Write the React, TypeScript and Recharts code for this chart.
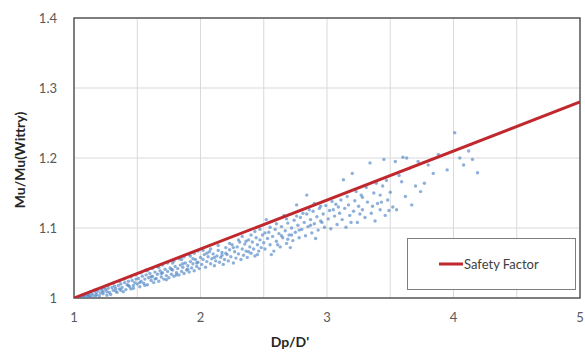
import { ScatterChart, Scatter, XAxis, YAxis, CartesianGrid, ReferenceArea, Legend, Label } from "recharts";

const FONT = "Lato, 'Open Sans', sans-serif";
const RED = "#c0282d";
const DOT = "#4f86c6";

// axis ticks (grid every 0.5 on x, labels only on integers)
const xTicks = [1, 1.5, 2, 2.5, 3, 3.5, 4, 4.5, 5];
const yTicks = [1, 1.1, 1.2, 1.3, 1.4];

// safety factor line end points
const safetyFactor = [
  { x: 1, y: 1 },
  { x: 5, y: 1.28 },
];

const band1: [number, number][] = [
  [1.02, 1.0], [1.04, 1.001], [1.05, 1.002], [1.07, 1.002], [1.08, 1.004], [1.1, 1.003], [1.11, 1.005], [1.12, 1.002],
  [1.14, 1.006], [1.15, 1.004], [1.17, 1.008], [1.18, 1.005], [1.19, 1.01], [1.21, 1.007], [1.22, 1.011], [1.23, 1.006],
  [1.25, 1.012], [1.26, 1.009], [1.27, 1.014], [1.28, 1.008], [1.3, 1.015], [1.31, 1.011], [1.32, 1.017], [1.33, 1.01],
  [1.35, 1.018], [1.36, 1.013], [1.37, 1.02], [1.38, 1.015], [1.4, 1.022], [1.41, 1.012], [1.42, 1.019], [1.43, 1.024],
  [1.44, 1.016], [1.46, 1.025], [1.47, 1.018], [1.48, 1.022], [1.49, 1.027], [1.5, 1.02], [1.13, 1.001], [1.2, 1.003],
  [1.29, 1.005], [1.34, 1.008], [1.39, 1.009], [1.45, 1.013], [1.24, 1.015], [1.16, 1.011],
  [1.06, 1.004], [1.09, 1.006], [1.13, 1.009], [1.18, 1.012], [1.22, 1.014], [1.27, 1.018], [1.31, 1.021], [1.36, 1.024],
  [1.4, 1.027], [1.45, 1.03], [1.49, 1.033], [1.08, 1.001], [1.12, 1.004], [1.17, 1.003], [1.23, 1.009], [1.26, 1.004],
  [1.33, 1.014], [1.37, 1.011], [1.43, 1.018], [1.47, 1.014],
];

const band2: [number, number][] = [
  [1.51, 1.028], [1.52, 1.016], [1.53, 1.024], [1.54, 1.031], [1.55, 1.021], [1.56, 1.027], [1.57, 1.033], [1.58, 1.019],
  [1.59, 1.029], [1.6, 1.035], [1.61, 1.025], [1.62, 1.031], [1.63, 1.022], [1.64, 1.037], [1.65, 1.028], [1.66, 1.034],
  [1.67, 1.024], [1.68, 1.039], [1.69, 1.03], [1.7, 1.036], [1.71, 1.027], [1.72, 1.041], [1.73, 1.032], [1.74, 1.038],
  [1.75, 1.029], [1.76, 1.043], [1.77, 1.034], [1.78, 1.04], [1.79, 1.031], [1.8, 1.045], [1.81, 1.036], [1.82, 1.042],
  [1.83, 1.033], [1.84, 1.047], [1.85, 1.038], [1.86, 1.044], [1.87, 1.035], [1.88, 1.05], [1.89, 1.04], [1.9, 1.046],
  [1.91, 1.037], [1.92, 1.052], [1.93, 1.043], [1.94, 1.049], [1.95, 1.039], [1.96, 1.055], [1.97, 1.045], [1.98, 1.051],
  [1.99, 1.042], [2.0, 1.058], [1.66, 1.045], [1.78, 1.05], [1.85, 1.055], [1.92, 1.06], [1.57, 1.04],
  [1.53, 1.036], [1.58, 1.039], [1.62, 1.042], [1.67, 1.044], [1.7, 1.047], [1.74, 1.05], [1.79, 1.053], [1.83, 1.056],
  [1.87, 1.059], [1.91, 1.062], [1.95, 1.064], [1.98, 1.067], [1.52, 1.022], [1.56, 1.018], [1.61, 1.03], [1.64, 1.027],
  [1.69, 1.035], [1.73, 1.026], [1.77, 1.041], [1.81, 1.033], [1.86, 1.049], [1.9, 1.041], [1.94, 1.056], [1.97, 1.05],
];

const band3: [number, number][] = [
  [2.01, 1.048], [2.02, 1.055], [2.03, 1.062], [2.04, 1.044], [2.05, 1.052], [2.06, 1.059], [2.07, 1.066], [2.08, 1.049],
  [2.09, 1.056], [2.1, 1.063], [2.11, 1.046], [2.12, 1.053], [2.13, 1.06], [2.14, 1.068], [2.15, 1.051], [2.16, 1.058],
  [2.17, 1.065], [2.18, 1.048], [2.19, 1.055], [2.2, 1.072], [2.21, 1.062], [2.22, 1.053], [2.23, 1.069], [2.24, 1.059],
  [2.25, 1.076], [2.26, 1.05], [2.27, 1.066], [2.28, 1.057], [2.29, 1.073], [2.3, 1.063], [2.31, 1.08], [2.32, 1.055],
  [2.33, 1.07], [2.34, 1.061], [2.35, 1.077], [2.36, 1.067], [2.37, 1.058], [2.38, 1.083], [2.39, 1.073], [2.4, 1.064],
  [2.41, 1.08], [2.42, 1.07], [2.43, 1.06], [2.44, 1.086], [2.45, 1.076], [2.46, 1.067], [2.47, 1.083], [2.48, 1.072],
  [2.49, 1.09], [2.5, 1.079], [2.52, 1.112],
  [2.02, 1.068], [2.05, 1.064], [2.08, 1.07], [2.11, 1.058], [2.14, 1.075], [2.17, 1.061], [2.2, 1.064], [2.23, 1.078],
  [2.26, 1.072], [2.3, 1.083], [2.33, 1.088], [2.36, 1.081], [2.4, 1.09], [2.43, 1.095], [2.47, 1.098], [2.45, 1.062],
  [2.38, 1.066],
];

const band4: [number, number][] = [
  [2.51, 1.07], [2.53, 1.085], [2.54, 1.094], [2.55, 1.076], [2.57, 1.088], [2.58, 1.067], [2.59, 1.098], [2.6, 1.081],
  [2.62, 1.092], [2.63, 1.073], [2.64, 1.102], [2.65, 1.086], [2.67, 1.096], [2.68, 1.078], [2.69, 1.107], [2.7, 1.09],
  [2.72, 1.1], [2.73, 1.082], [2.74, 1.111], [2.75, 1.094], [2.77, 1.104], [2.78, 1.086], [2.79, 1.115], [2.8, 1.098],
  [2.82, 1.108], [2.83, 1.089], [2.84, 1.12], [2.85, 1.102], [2.87, 1.112], [2.88, 1.093], [2.89, 1.124], [2.9, 1.106],
  [2.92, 1.116], [2.93, 1.097], [2.94, 1.128], [2.95, 1.11], [2.97, 1.12], [2.98, 1.101], [2.99, 1.132], [2.76, 1.133],
  [2.84, 1.147], [2.66, 1.118], [2.56, 1.062], [2.71, 1.072], [2.91, 1.085],
  [2.51, 1.093], [2.55, 1.101], [2.6, 1.106], [2.64, 1.089], [2.68, 1.113], [2.72, 1.09], [2.76, 1.117], [2.81, 1.121],
  [2.86, 1.126], [2.9, 1.135], [2.95, 1.131], [2.61, 1.076], [2.69, 1.084], [2.78, 1.097], [2.87, 1.104], [2.96, 1.108],
];

const band5: [number, number][] = [
  [3.01, 1.113], [3.02, 1.125], [3.03, 1.099], [3.05, 1.126], [3.06, 1.117], [3.07, 1.134], [3.08, 1.105], [3.1, 1.121],
  [3.11, 1.14], [3.12, 1.112], [3.13, 1.169], [3.14, 1.128], [3.15, 1.101], [3.17, 1.133], [3.18, 1.118], [3.2, 1.178],
  [3.21, 1.124], [3.22, 1.139], [3.24, 1.108], [3.25, 1.131], [3.27, 1.147], [3.28, 1.126], [3.28, 1.144], [3.3, 1.115],
  [3.32, 1.137], [3.34, 1.193], [3.35, 1.121], [3.37, 1.15], [3.38, 1.11], [3.4, 1.135], [3.42, 1.147], [3.42, 1.126],
  [3.44, 1.16], [3.46, 1.118], [3.48, 1.14], [3.5, 1.151], [3.45, 1.198],
  [3.04, 1.138], [3.09, 1.13], [3.16, 1.145], [3.19, 1.108], [3.23, 1.152], [3.26, 1.12], [3.31, 1.158], [3.36, 1.131],
  [3.39, 1.164], [3.43, 1.137], [3.47, 1.168], [3.49, 1.125],
];

const band6: [number, number][] = [
  [3.52, 1.13], [3.54, 1.195], [3.55, 1.126], [3.57, 1.175], [3.59, 1.166], [3.6, 1.201], [3.62, 1.145], [3.63, 1.2],
  [3.65, 1.185], [3.67, 1.133], [3.7, 1.16], [3.72, 1.195], [3.74, 1.152], [3.77, 1.164], [3.8, 1.19], [3.84, 1.178],
  [3.88, 1.205], [3.95, 1.183], [4.01, 1.236], [4.05, 1.2], [4.08, 1.19], [4.12, 1.21], [4.15, 1.198], [4.19, 1.179],
];

const samples = [...band1, ...band2, ...band3, ...band4, ...band5, ...band6].map(([x, y]) => ({ x, y }));

const SampleDot = (props: any) => (
  <circle cx={props.cx} cy={props.cy} r={1.7} fill={DOT} fillOpacity={0.65} />
);

const SafetyLegend = () => (
  <div
    style={{
      width: 169,
      height: 52,
      boxSizing: "border-box",
      border: "1.5px solid #7f7f7f",
      background: "#fff",
      display: "flex",
      alignItems: "center",
      paddingLeft: 31,
      fontFamily: FONT,
      fontSize: 13,
      color: "#404040",
    }}
  >
    <svg width={24} height={6} style={{ marginRight: 1 }}>
      <line x1={0} y1={3} x2={24} y2={3} stroke={RED} strokeWidth={3} />
    </svg>
    <span>Safety Factor</span>
  </div>
);

export default function App() {
  return (
    <div style={{ position: "absolute", left: 0, top: 0, width: 585, height: 359, background: "#fff" }}>
      <ScatterChart width={585} height={359} margin={{ top: 18, right: 5, bottom: 21, left: 0 }}>
        <CartesianGrid stroke="#d9d9d9" strokeWidth={1} />
        <XAxis
          type="number"
          dataKey="x"
          domain={[1, 5]}
          ticks={xTicks}
          allowDataOverflow
          axisLine={false}
          tickLine={false}
          tickMargin={9}
          height={40}
          tickFormatter={(v: number) => (Number.isInteger(v) ? String(v) : "")}
          tick={{ fill: "#595959", fontSize: 13, fontFamily: FONT }}
        >
          <Label
            content={() => (
              <text x={290} y={347} textAnchor="middle" fontFamily={FONT} fontSize={14} fontWeight="bold" fill="#262626">
                Dp/D'
              </text>
            )}
          />
        </XAxis>
        <YAxis
          type="number"
          dataKey="y"
          domain={[1, 1.4]}
          ticks={yTicks}
          allowDataOverflow
          axisLine={false}
          tickLine={false}
          tickMargin={11}
          width={74}
          tick={{ fill: "#595959", fontSize: 13, fontFamily: FONT }}
        >
          <Label
            content={() => (
              <text
                x={19}
                y={160}
                transform="rotate(-90, 19, 160)"
                textAnchor="middle"
                dominantBaseline="central"
                fontFamily={FONT}
                fontSize={14}
                fontWeight="bold"
                fill="#262626"
              >
                Mu/Mu(Wittry)
              </text>
            )}
          />
        </YAxis>
        <Scatter name="Samples" data={samples} shape={SampleDot} legendType="none" isAnimationActive={false} />
        <Scatter
          name="Safety Factor"
          data={safetyFactor}
          line={{ stroke: RED, strokeWidth: 3 }}
          shape={() => <g />}
          legendType="line"
          isAnimationActive={false}
        />
        <ReferenceArea x1={1} x2={5} y1={1} y2={1.4} fill="none" stroke="#595959" strokeWidth={1.5} />
        <Legend
          layout="vertical"
          align="center"
          verticalAlign="middle"
          wrapperStyle={{ left: 407, top: 238, width: 169, height: 52 }}
          content={() => <SafetyLegend />}
        />
      </ScatterChart>
    </div>
  );
}
